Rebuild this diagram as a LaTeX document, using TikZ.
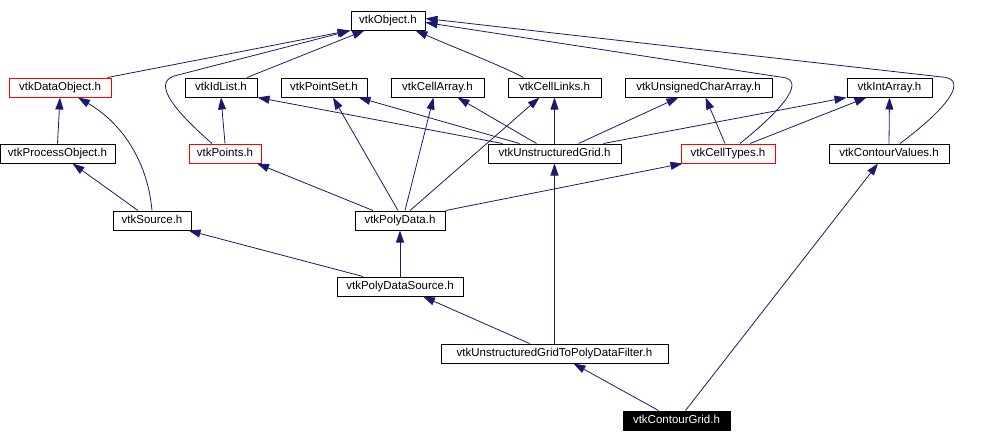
\documentclass[tikz,border=0pt]{standalone}
\usepackage{fontspec}
\setmainfont{Liberation Sans}
\usetikzlibrary{arrows.meta}
\definecolor{Edge}{RGB}{25,25,112}

\begin{document}
\begin{tikzpicture}[x=1pt,y=-1pt,>={Triangle[length=12pt,width=8pt]},
    file/.style={draw,line width=1pt,fill=white,minimum height=19pt,inner sep=0pt,
      text height=9pt,text depth=3pt,font=\fontsize{11.5}{13}\selectfont},
    seen/.style={file,draw=red},
    this/.style={file,fill=black,text=white},
    dep/.style={->,draw=Edge,line width=0.8pt}]
  \useasboundingbox (0,0) rectangle (985,442);
  % header files
  \node[file,minimum width=74pt] (obj) at (388,20.5) {vtkObject.h};
  \node[seen,minimum width=102pt] (dobj) at (60,87.5) {vtkDataObject.h};
  \node[file,minimum width=72pt] (ids) at (221,87.5) {vtkIdList.h};
  \node[file,minimum width=86pt] (pset) at (324,87.5) {vtkPointSet.h};
  \node[file,minimum width=93pt] (carr) at (437.5,87.5) {vtkCellArray.h};
  \node[file,minimum width=93pt] (links) at (554.5,87.5) {vtkCellLinks.h};
  \node[file,minimum width=147pt] (uca) at (698.5,87.5) {vtkUnsignedCharArray.h};
  \node[file,minimum width=85pt] (iarr) at (889.5,87.5) {vtkIntArray.h};
  \node[file,minimum width=115pt] (pobj) at (57.5,153.5) {vtkProcessObject.h};
  \node[seen,minimum width=72pt] (pts) at (225,153.5) {vtkPoints.h};
  \node[file,minimum width=133pt] (ug) at (554.5,153.5) {vtkUnstructuredGrid.h};
  \node[seen,minimum width=94pt] (ctypes) at (728,153.5) {vtkCellTypes.h};
  \node[file,minimum width=120pt] (cvals) at (889,153.5) {vtkContourValues.h};
  \node[file,minimum width=78pt] (src) at (152,220.5) {vtkSource.h};
  \node[file,minimum width=90pt] (pd) at (400,220.5) {vtkPolyData.h};
  \node[file,minimum width=126pt] (pds) at (400,286.5) {vtkPolyDataSource.h};
  \node[file,minimum width=227pt] (filt) at (554.5,353.5) {vtkUnstructuredGridToPolyDataFilter.h};
  \node[this,minimum width=107pt] (cg) at (676.5,420.5) {vtkContourGrid.h};
  % includes, arrow at the included file
  \draw[dep] ([xshift=-4pt]dobj.north east) -- ([xshift=-1pt]obj.south west);
  \draw[dep] ([xshift=-13pt]pts.north) .. controls (168,105) and (152,80) .. (178,75)
    -- ([xshift=0pt]obj.south west);
  \draw[dep] ([xshift=26pt]ids.north) -- ([xshift=14pt]obj.south west);
  \draw[dep] ([xshift=-31pt]links.north) .. controls (500,65) and (460,50) .. ([xshift=-10pt]obj.south east);
  \draw[dep] ([xshift=12pt]ctypes.north) .. controls (800,95) and (800,78) .. (780,77)
    -- ([yshift=-2pt]obj.east);
  \draw[dep] ([xshift=11pt]cvals.north) .. controls (962,97) and (962,78) .. (942,77)
    -- ([yshift=2pt]obj.east);
  \draw[dep] (pobj.north) -- (dobj.south);
  \draw[dep] (src.north) .. controls (148,165) and (125,125) .. ([xshift=18pt]dobj.south);
  \draw[dep] ([xshift=-14pt]src.north) -- ([xshift=15pt]pobj.south);
  \draw[dep] (pts.north) -- (ids.south);
  \draw[dep] ([xshift=-27pt]pd.north) -- ([xshift=32pt]pts.south);
  \draw[dep] ([xshift=-2pt]pd.north) -- ([xshift=9pt]pset.south);
  \draw[dep] ([xshift=5pt]pd.north) -- ([xshift=-4pt]carr.south);
  \draw[dep] ([xshift=10pt]pd.north) -- ([xshift=-15pt]links.south);
  \draw[dep] (pd.north east) -- ([xshift=2pt]ctypes.south west);
  \draw[dep] ([xshift=15pt]ug.north west) -- (ids.south east);
  \draw[dep] ([xshift=32pt]ug.north west) -- ([xshift=-9pt]pset.south east);
  \draw[dep] ([xshift=49pt]ug.north west) -- ([xshift=20pt]carr.south);
  \draw[dep] (ug.north) -- (links.south);
  \draw[dep] ([xshift=24pt]ug.north) -- ([xshift=-20pt]uca.south);
  \draw[dep] ([xshift=-18pt]ug.north east) -- (iarr.south west);
  \draw[dep] ([xshift=-3pt]ctypes.north) -- ([xshift=7pt]uca.south);
  \draw[dep] ([xshift=22pt]ctypes.north) -- ([xshift=-23pt]iarr.south);
  \draw[dep] (cvals.north) -- (iarr.south);
  \draw[dep] ([xshift=-37pt]pds.north) -- ([xshift=-3pt]src.south east);
  \draw[dep] (pds.north) -- (pd.south);
  \draw[dep] ([xshift=-25pt]filt.north) -- ([xshift=23pt]pds.south);
  \draw[dep] (filt.north) -- (ug.south);
  \draw[dep] ([xshift=-18pt]cg.north) -- ([xshift=19pt]filt.south);
  \draw[dep] ([xshift=9pt]cg.north) -- ([xshift=-11pt]cvals.south);
\end{tikzpicture}
\end{document}
